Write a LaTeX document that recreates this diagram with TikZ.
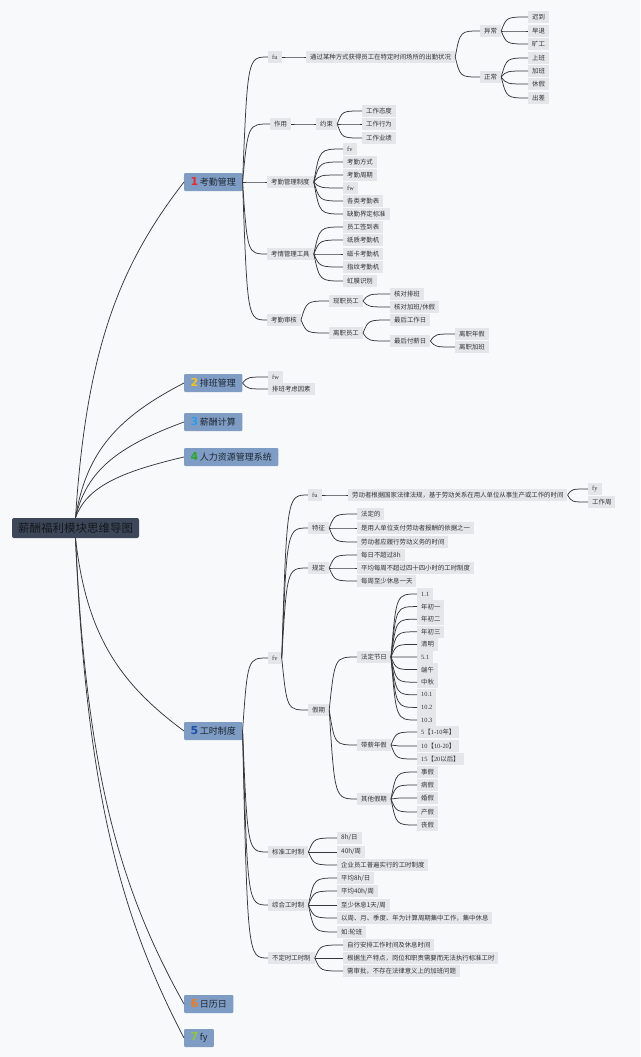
\documentclass[tikz,border=0pt]{standalone}
\usepackage{fontspec}
\usetikzlibrary{calc}
\newfontfamily\cjk{Noto Sans CJK SC}
\newfontfamily\lt{Liberation Serif}
\newfontfamily\numfont{DejaVu Sans}

\definecolor{bgc}{HTML}{F8F9FB}
\definecolor{linkc}{HTML}{34373C}
\definecolor{leafc}{HTML}{E4E6EA}
\definecolor{leaftext}{HTML}{333333}
\definecolor{topc}{HTML}{7F9DC4}
\definecolor{toptext}{HTML}{1E2733}
\definecolor{rootc}{HTML}{3C4759}
\definecolor{roottext}{HTML}{15181D}
\definecolor{n1}{HTML}{E32B33}
\definecolor{n2}{HTML}{F2C31B}
\definecolor{n3}{HTML}{2F9BEA}
\definecolor{n4}{HTML}{2BA52E}
\definecolor{n5}{HTML}{1E4FA8}
\definecolor{n6}{HTML}{F07A1E}
\definecolor{n7}{HTML}{8DC63F}

\tikzset{
  leaf/.style={fill=leafc, text=leaftext, font=\cjk\fontsize{6.4}{7}\selectfont,
    anchor=west, inner xsep=4pt, inner ysep=0pt, minimum height=12.5pt},
  topic/.style={fill=topc, text=toptext, font=\cjk\fontsize{9}{10}\selectfont,
    anchor=west, inner xsep=6.5pt, inner ysep=0pt, minimum height=18pt, rounded corners=1pt},
  rootbox/.style={fill=rootc, text=roottext, font=\cjk\fontsize{11.5}{12}\selectfont,
    rounded corners=2pt, minimum height=20pt, inner xsep=6pt},
  link/.style={draw=linkc, line width=0.75pt},
}

% coloured number in front of a main topic
\newcommand{\num}[2]{{\color{#1}\numfont\bfseries\fontsize{11}{11}\selectfont #2}\,}
% parent anchor -> list of children
\newcommand{\branch}[3][0.2]{%
  \foreach \kid in {#3}{%
    \draw[link] let \p1=(#2), \p2=(\kid.west) in
      (\p1) .. controls ({\x1+#1*(\x2-\x1)},\y2) .. (\p2);}%
}
% parent -> numbered children prefix1..prefixN
\newcommand{\fan}[3]{%
  \foreach \i in {1,...,#3}{%
    \draw[link] let \p1=(#1.east), \p2=(#2\i.west) in
      (\p1) .. controls ({\x1+0.2*(\x2-\x1)},\y2) .. (\p2);}%
}
% root -> main topics
\newcommand{\rootlink}[2]{%
  \foreach \kid in {#2}{%
    \draw[link] let \p1=(#1), \p2=(\kid.west) in
      (\p1) .. controls ({\x1+0.1*(\x2-\x1)},{\y1+0.5*(\y2-\y1)})
              and ({\x1+0.4*(\x2-\x1)},{\y2-0.25*(\y2-\y1)}) .. (\p2);}%
}

\begin{document}
\begin{tikzpicture}[x=1pt, y=-1pt]
\fill[bgc] (0,0) rectangle (640,1057);
\useasboundingbox (0,0) rectangle (640,1057);

% root and main topics
\node[rootbox] (root) at (75.5,528) {薪酬福利模块思维导图};

\node[topic] (k1) at (184,182) {\num{n1}{1}考勤管理};
\node[topic] (k2) at (184,383) {\num{n2}{2}排班管理};
\node[topic] (k3) at (184,422) {\num{n3}{3}薪酬计算};
\node[topic] (k4) at (184,457) {\num{n4}{4}人力资源管理系统};
\node[topic] (k5) at (184,731) {\num{n5}{5}工时制度};
\node[topic] (k6) at (184,1004) {\num{n6}{6}日历日};
\node[topic] (k7) at (184,1038) {\num{n7}{7}fy};

\rootlink{root.north}{k1,k2,k3,k4}
\rootlink{root.south}{k5,k6,k7}

% 1 考勤管理
\node[leaf] (a1) at (268,57) {\lt fu};
\node[leaf] (a1d) at (306,57) {通过某种方式获得员工在特定时间场所的出勤状况};
\node[leaf] (yc) at (480,31) {异常};
\node[leaf] (zc) at (480,77) {正常};
\foreach \t/\y [count=\i] in {迟到/17,早退/31,旷工/44}
  \node[leaf] (yc\i) at (528,\y) {\t};
\foreach \t/\y [count=\i] in {上班/58,加班/71,休假/84,出差/98}
  \node[leaf] (zc\i) at (528,\y) {\t};

\node[leaf] (zy) at (270,124) {作用};
\node[leaf] (ys) at (316,124) {约束};
\foreach \t/\y [count=\i] in {工作态度/111,工作行为/124,工作业绩/138}
  \node[leaf] (ys\i) at (362,\y) {\t};

\node[leaf] (zd) at (267,182) {考勤管理制度};
\foreach \t/\y [count=\i] in {{\lt fv}/149,考勤方式/162,考勤周期/175,{\lt fw}/188,各类考勤表/201,缺勤界定标准/214}
  \node[leaf] (zd\i) at (343,\y) {\t};

\node[leaf] (gj) at (267,254) {考情管理工具};
\foreach \t/\y [count=\i] in {员工签到表/227,纸质考勤机/240,磁卡考勤机/254,指纹考勤机/267,虹膜识别/281}
  \node[leaf] (gj\i) at (343,\y) {\t};

\node[leaf] (sh) at (267,320) {考勤审核};
\node[leaf] (xz) at (329,301) {现职员工};
\node[leaf] (lz) at (329,333) {离职员工};
\node[leaf] (xz1) at (390,294) {核对排班};
\node[leaf] (xz2) at (390,307) {核对加班/休假};
\node[leaf] (lz1) at (390,320) {最后工作日};
\node[leaf] (lz2) at (390,341) {最后付薪日};
\node[leaf] (fx1) at (455,334) {离职年假};
\node[leaf] (fx2) at (455,347) {离职加班};

\branch{k1.east}{a1,zy,zd,gj,sh}
\branch{a1.east}{a1d}
\branch{a1d.east}{yc,zc}
\fan{yc}{yc}{3}
\fan{zc}{zc}{4}
\branch{zy.east}{ys}
\fan{ys}{ys}{3}
\fan{zd}{zd}{6}
\fan{gj}{gj}{5}
\branch{sh.east}{xz,lz}
\fan{xz}{xz}{2}
\fan{lz}{lz}{2}
\branch{lz2.east}{fx1,fx2}

% 2 排班管理
\node[leaf] (pb1) at (268,377) {\lt fw};
\node[leaf] (pb2) at (268,389) {排班考虑因素};
\fan{k2}{pb}{2}

% 5 工时制度
\node[leaf] (g5) at (268,658) {\lt fv};
\node[leaf] (bz) at (268,852) {标准工时制};
\node[leaf] (zh) at (268,905) {综合工时制};
\node[leaf] (bd) at (268,958) {不定时工时制};
\branch{k5.east}{g5,bz,zh,bd}

\node[leaf] (fu5) at (308,495) {\lt fu};
\node[leaf] (tz) at (308,528) {特征};
\node[leaf] (gd) at (308,568) {规定};
\node[leaf] (jq) at (308,710) {假期};
\branch{g5.east}{fu5,tz,gd,jq}

\node[leaf] (fu5d) at (348,495) {劳动者根据国家法律法规，基于劳动关系在用人单位从事生产或工作的时间};
\node[leaf] (fu5d1) at (588,489) {\lt fy};
\node[leaf] (fu5d2) at (588,502) {工作周};
\branch{fu5.east}{fu5d}
\fan{fu5d}{fu5d}{2}

\foreach \t/\y [count=\i] in {法定的/514,是用人单位支付劳动者报酬的依据之一/528,劳动者应履行劳动义务的时间/542}
  \node[leaf] (tz\i) at (357,\y) {\t};
\fan{tz}{tz}{3}
\foreach \t/\y [count=\i] in {每日不超过8h/555,平均每周不超过四十四小时的工时制度/568,每周至少休息一天/581}
  \node[leaf] (gd\i) at (357,\y) {\t};
\fan{gd}{gd}{3}

\node[leaf] (fd) at (357,657) {法定节日};
\node[leaf] (dx) at (357,745) {带薪年假};
\node[leaf] (qt) at (357,799) {其他假期};
\branch{jq.east}{fd,dx,qt}

\foreach \t [count=\i] in {{\lt 1.1},年初一,年初二,年初三,清明,{\lt 5.1},端午,中秋,{\lt 10.1},{\lt 10.2},{\lt 10.3}}
  \node[leaf] (fd\i) at (417,{594+12.6*(\i-1)}) {\t};
\fan{fd}{fd}{11}

\node[leaf] (dx1) at (417,732) {{\lt 5}【{\lt 1-10}年】};
\node[leaf] (dx2) at (417,746) {{\lt 10}【{\lt 10-20}】};
\node[leaf] (dx3) at (417,759) {{\lt 15}【{\lt 20}以后】};
\fan{dx}{dx}{3}

\foreach \t/\y [count=\i] in {事假/772,病假/785,婚假/798,产假/812,丧假/825}
  \node[leaf] (qt\i) at (417,\y) {\t};
\fan{qt}{qt}{5}

\foreach \t/\y [count=\i] in {{8h/日}/838,{40h/周}/852,企业员工普遍实行的工时制度/865}
  \node[leaf] (bz\i) at (337,\y) {\t};
\fan{bz}{bz}{3}
\foreach \t/\y [count=\i] in {{平均8h/日}/878,{平均40h/周}/891,{至少休息1天/周}/905,以周、月、季度、年为计算周期集中工作，集中休息/918,如:轮班/932}
  \node[leaf] (zh\i) at (337,\y) {\t};
\fan{zh}{zh}{5}
\foreach \t/\y [count=\i] in {自行安排工作时间及休息时间/945,根据生产特点，岗位和职责需要而无法执行标准工时/958,需审批，不存在法律意义上的加班问题/971}
  \node[leaf] (bd\i) at (343,\y) {\t};
\fan{bd}{bd}{3}
\end{tikzpicture}
\end{document}
